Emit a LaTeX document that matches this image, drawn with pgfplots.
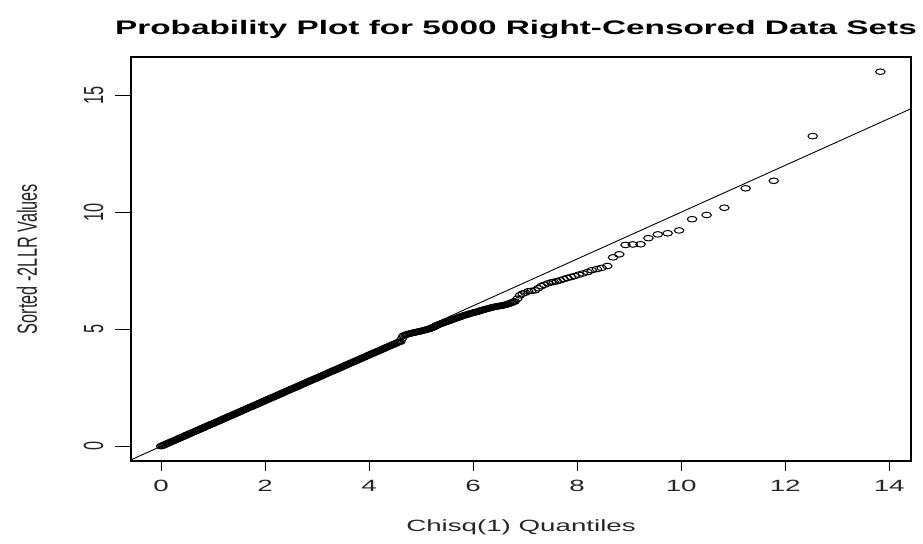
\documentclass[border=0pt]{standalone}
\usepackage{pgfplots}
\pgfplotsset{compat=1.18}
\usepackage{pgfplotstable}
\usepackage{graphicx}
\usepackage{fontspec}
\setmainfont{Liberation Sans}

\pgfplotstableread{
x y
0.00 0.00
0.05 0.05
0.10 0.10
0.15 0.15
0.20 0.20
0.25 0.24
0.30 0.29
0.35 0.34
0.40 0.39
0.45 0.44
0.50 0.49
0.55 0.54
0.60 0.59
0.65 0.63
0.70 0.68
0.75 0.73
0.80 0.78
0.85 0.83
0.90 0.88
0.95 0.93
1.00 0.97
1.05 1.02
1.10 1.07
1.15 1.12
1.20 1.17
1.25 1.22
1.30 1.27
1.35 1.31
1.40 1.36
1.45 1.41
1.50 1.46
1.55 1.51
1.60 1.56
1.65 1.61
1.70 1.66
1.75 1.70
1.80 1.75
1.85 1.80
1.90 1.85
1.95 1.90
2.00 1.95
2.05 2.00
2.10 2.05
2.15 2.09
2.20 2.14
2.25 2.19
2.30 2.24
2.35 2.29
2.40 2.34
2.45 2.39
2.50 2.44
2.55 2.48
2.60 2.53
2.65 2.58
2.70 2.63
2.75 2.68
2.80 2.73
2.85 2.78
2.90 2.83
2.95 2.87
3.00 2.92
3.05 2.97
3.10 3.02
3.15 3.07
3.20 3.12
3.25 3.17
3.30 3.22
3.35 3.26
3.40 3.31
3.45 3.36
3.50 3.41
3.55 3.46
3.60 3.51
3.65 3.56
3.70 3.60
3.75 3.65
3.80 3.70
3.85 3.75
3.90 3.80
3.95 3.85
4.00 3.90
4.05 3.95
4.10 4.00
4.15 4.04
4.20 4.09
4.25 4.14
4.30 4.19
4.35 4.24
4.40 4.29
4.45 4.33
4.50 4.38
4.55 4.43
4.60 4.47
4.63 4.60
4.66 4.72
4.70 4.76
4.75 4.79
4.80 4.82
4.85 4.85
4.90 4.87
4.95 4.90
5.00 4.92
5.05 4.95
5.10 4.98
5.15 5.01
5.20 5.05
5.25 5.10
5.30 5.16
5.35 5.21
5.40 5.25
5.45 5.29
5.50 5.33
5.55 5.37
5.60 5.41
5.65 5.45
5.70 5.49
5.75 5.53
5.80 5.57
5.85 5.60
5.90 5.64
5.95 5.67
6.00 5.70
6.05 5.73
6.10 5.76
6.15 5.80
6.20 5.83
6.25 5.86
6.30 5.89
6.35 5.92
6.40 5.95
6.45 5.97
6.50 5.99
6.55 6.01
6.60 6.03
6.65 6.06
6.70 6.10
6.75 6.14
6.80 6.19
6.85 6.30
6.90 6.45
6.95 6.52
7.00 6.56
7.06 6.62
7.12 6.64
7.19 6.66
7.25 6.75
7.31 6.84
7.37 6.90
7.44 6.96
7.50 7.00
7.55 7.02
7.61 7.05
7.67 7.09
7.74 7.14
7.81 7.19
7.88 7.23
7.95 7.27
8.03 7.33
8.11 7.38
8.20 7.44
8.28 7.52
8.38 7.57
8.47 7.62
8.58 7.70
8.69 8.07
8.81 8.20
8.93 8.60
9.07 8.62
9.22 8.63
9.37 8.89
9.55 9.05
9.74 9.10
9.96 9.22
10.21 9.70
10.49 9.88
10.83 10.19
11.24 11.02
11.78 11.34
12.53 13.25
13.83 16.00
}\qq

\pgfplotstableread{
x y
0.025 0.024
0.075 0.073
0.125 0.122
0.175 0.171
0.225 0.219
0.275 0.268
0.325 0.317
0.375 0.366
0.425 0.414
0.475 0.463
0.525 0.512
0.575 0.561
0.625 0.609
0.675 0.658
0.725 0.707
0.775 0.756
0.825 0.804
0.875 0.853
0.925 0.902
0.975 0.951
1.025 0.999
1.075 1.048
1.125 1.097
1.175 1.146
1.225 1.194
1.275 1.243
1.325 1.292
1.375 1.341
1.425 1.389
1.475 1.438
1.525 1.487
1.575 1.536
1.625 1.584
1.675 1.633
1.725 1.682
1.775 1.731
1.825 1.779
1.875 1.828
1.925 1.877
1.975 1.926
2.025 1.974
2.075 2.023
2.125 2.072
2.175 2.121
2.225 2.169
2.275 2.218
2.325 2.267
2.375 2.316
2.425 2.364
2.475 2.413
2.525 2.462
2.575 2.511
2.625 2.559
2.675 2.608
2.725 2.657
2.775 2.706
2.825 2.754
2.875 2.803
2.925 2.852
2.975 2.901
3.025 2.949
3.075 2.998
3.125 3.047
3.175 3.096
3.225 3.144
3.275 3.193
3.325 3.242
3.375 3.291
3.425 3.339
3.475 3.388
3.525 3.437
3.575 3.486
3.625 3.534
3.675 3.583
3.725 3.632
3.775 3.681
3.825 3.729
3.875 3.778
3.925 3.827
3.975 3.876
4.025 3.924
4.075 3.973
4.125 4.022
4.175 4.071
4.225 4.119
4.275 4.168
4.325 4.217
4.375 4.266
4.425 4.314
4.475 4.363
4.525 4.412
4.575 4.461
4.725 4.78
4.775 4.81
4.825 4.84
4.875 4.86
4.925 4.89
4.975 4.91
5.025 4.94
5.075 4.97
5.125 5.00
5.175 5.03
5.225 5.08
5.275 5.13
5.325 5.19
5.375 5.23
5.425 5.27
5.475 5.31
5.525 5.35
5.575 5.39
5.625 5.43
5.675 5.47
5.725 5.51
5.775 5.55
5.825 5.59
5.875 5.62
5.925 5.66
5.975 5.69
6.025 5.72
6.075 5.75
6.125 5.78
6.175 5.82
6.225 5.85
6.275 5.88
6.325 5.91
6.375 5.94
6.425 5.96
6.475 5.98
6.525 6.00
6.575 6.02
6.625 6.05
6.675 6.08
6.725 6.12
6.775 6.17
}\qb

\begin{document}
\begin{tikzpicture}[x=1bp,y=1bp]
\useasboundingbox (0,0) rectangle (923,544);
\begin{axis}[
  at={(131bp,83bp)}, anchor=south west,
  scale only axis, width=780bp, height=404bp,
  xmin=-0.58, xmax=14.42, ymin=-0.63, ymax=16.63,
  xtick={0,2,...,14}, ytick={0,5,10,15},
  minor tick num=0,
  tick align=outside,
  major tick length=10bp,
  xtick pos=bottom, ytick pos=left,
  xtick style={black, line width=1.1bp},
  ytick style={black, line width=1.1bp, /pgfplots/major tick length=16bp},
  axis line style={black, line width=1.3bp},
  xticklabel={\scalebox{1.7}[1]{\pgfmathprintnumber[assume math mode=true]{\tick}}},
  yticklabel={\scalebox{1}[1.7]{\pgfmathprintnumber[assume math mode=true]{\tick}}},
  xticklabel style={font=\fontsize{16.3bp}{19bp}\selectfont, anchor=north, color=black!85},
  yticklabel style={font=\fontsize{16.3bp}{19bp}\selectfont, rotate=90, anchor=south, color=black!85},
  xticklabel shift=6bp,
  yticklabel shift=14bp,
]
\addplot[black, line width=0.9bp] coordinates {(-1,-1) (15,15)};
\addplot[only marks, mark=o, mark size=2.8bp, mark options={xscale=1.7, line width=1.0bp, black}] table {\qq};
\addplot[only marks, mark=o, mark size=2.8bp, mark options={xscale=1.7, line width=1.0bp, black}] table {\qb};
\end{axis}
\node[anchor=base] at (516,509) {\fontsize{19.6bp}{23bp}\selectfont\bfseries\scalebox{1.7}[1]{Probability Plot for 5000 Right-Censored Data Sets}};
\node[color=black!85] at (521,17) {\fontsize{16.3bp}{19bp}\selectfont\scalebox{1.7}[1]{Chisq(1) Quantiles}};
\node[rotate=90, color=black!85] at (27,285) {\fontsize{16.3bp}{19bp}\selectfont\scalebox{1}[1.7]{Sorted -2LLR Values}};
\end{tikzpicture}
\end{document}
